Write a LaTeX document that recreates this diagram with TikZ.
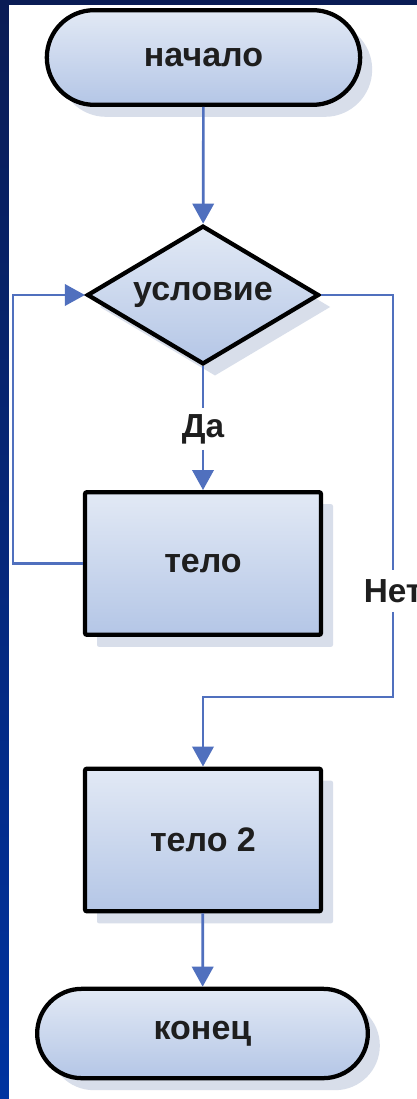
\documentclass[tikz,border=0pt]{standalone}
\usepackage{fontspec}
\setmainfont{Liberation Sans}
\usetikzlibrary{shapes.geometric,shapes.misc,shadows,arrows.meta}
\definecolor{frameTop}{RGB}{10,28,85}
\definecolor{frameBot}{RGB}{0,51,160}
\definecolor{flowfillA}{RGB}{226,233,245}
\definecolor{flowfillB}{RGB}{180,198,230}
\definecolor{conncol}{RGB}{80,112,190}
\definecolor{shadowcol}{RGB}{216,222,234}
\definecolor{txtcol}{RGB}{30,30,30}
\tikzset{
  box/.style={draw=black, line width=3.2pt, top color=flowfillA, bottom color=flowfillB,
    font=\bfseries\fontsize{25.5}{30}\selectfont, text=txtcol, inner sep=0pt,
    drop shadow={shadow xshift=9pt, shadow yshift=-9pt, fill=shadowcol, opacity=1}},
  terminal/.style={box, rounded rectangle, minimum width=235pt, minimum height=71pt},
  procbox/.style={box, rectangle, rounded corners=1.5pt, minimum width=177pt, minimum height=107pt},
  decision/.style={box, diamond, aspect=1.66, minimum width=174pt, minimum height=104pt},
  lbl/.style={font=\bfseries\fontsize{25}{30}\selectfont, text=txtcol, inner sep=0pt, minimum height=31pt},
  conn/.style={draw=conncol, line width=2pt},
  arr/.style={conn, -{Triangle[length=15pt,width=16pt]}}
}
\begin{document}
\begin{tikzpicture}[x=0.75pt,y=-0.75pt]
\fill[top color=frameTop,bottom color=frameBot] (0,0) rectangle (417,1099);
\fill[white] (9,5) rectangle (417,1099);
\useasboundingbox (0,0) rectangle (417,1099);

\node[terminal] (start) at (203.5,57.5) {начало};
\node[decision] (cond) at (203,295) {условие};
\node[procbox] (body) at (203,563.5) {тело};
\node[procbox] (body2) at (203,840) {тело 2};
\node[terminal, minimum width=248pt, minimum height=67pt] (end) at (202.5,1033.5) {конец};
\node[lbl] (da) at (203,429) {Да};
\node[lbl] (net) at (393,591) {Нет};
\coordinate (join) at (203,697);

\draw[arr] (start) -- (cond);
\draw[conn] (cond.south) -- (da.north);
\draw[arr] (da.south) -- (body.north);
\draw[arr] (body.west) -- ++(-70,0) |- (cond.west);
\draw[conn] (cond.east) -| (net.north);
\draw[arr] (net.south) |- (join) -- (body2.north);
\draw[arr] (body2) -- (end);
\end{tikzpicture}
\end{document}
